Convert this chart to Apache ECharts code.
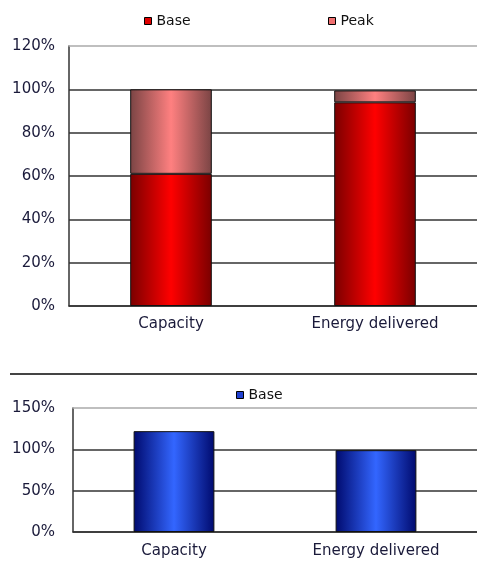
<!DOCTYPE html>
<html>
<head>
<meta charset="utf-8">
<script src="https://cdn.jsdelivr.net/npm/echarts@6/dist/echarts.min.js"></script>
<style>
  html, body { margin: 0; padding: 0; background: #fff; }
  #top { position: absolute; left: 0; top: 0; width: 477px; height: 370px; }
  #bottom { position: absolute; left: 0; top: 370px; width: 477px; height: 196px; }
</style>
</head>
<body>
<div id="top"></div>
<div id="bottom"></div>
<script>
const categories = ['Capacity', 'Energy delivered']
const topBase = [61, 94]
const topPeak = [39, 5.5]
const topTicks = [0, 20, 40, 60, 80, 100, 120]
const bottomBase = [122, 99]
const bottomTicks = [0, 50, 100, 150]

const font = 'DejaVu Sans'

const grad = (edge, mid) => new echarts.graphic.LinearGradient(0, 0, 1, 0, [
  { offset: 0, color: edge },
  { offset: 0.5, color: mid },
  { offset: 1, color: edge },
])

const RED = grad('#7a0000', '#ff0000')
const PINK = grad('#7a4444', '#ff8080')
const BLUE = grad('#000a6e', '#3366ff')

const yAxisCommon = (ticks, margin) => ({
  type: 'value',
  min: ticks[0],
  max: ticks[ticks.length - 1],
  interval: ticks[1] - ticks[0],
  axisLine: { show: true, lineStyle: { color: '#333', width: 1.5 } },
  axisTick: { show: false },
  axisLabel: {
    margin: margin,
    formatter: '{value}%',
    color: '#1a1a3a',
    fontFamily: font,
    fontSize: 15,
  },
  splitLine: {
    showMaxLine: false,
    lineStyle: { color: '#333', width: 1.5 },
  },
})

const xAxisCommon = (margin) => ([
  {
    type: 'category',
    data: categories,
    axisLine: { show: true, lineStyle: { color: '#333', width: 1.5 } },
    axisTick: { show: false },
    axisLabel: {
      margin: margin,
      color: '#1a1a3a',
      fontFamily: font,
      fontSize: 15,
    },
  },
  {
    // top frame line of the plot area
    type: 'category',
    position: 'top',
    data: categories,
    axisLine: { show: true, lineStyle: { color: '#aaa', width: 1.5 } },
    axisTick: { show: false },
    axisLabel: { show: false },
  },
])

const legendText = { color: '#111', fontFamily: font, fontSize: 14 }

const topChart = echarts.init(document.getElementById('top'))
topChart.setOption({
  animation: false,
  legend: [
    {
      data: [{ name: 'Base', itemStyle: { color: '#e00000', borderColor: '#000', borderWidth: 1 } }],
      left: 139, top: 9, itemWidth: 7, itemHeight: 7,
      icon: 'rect', textStyle: legendText,
    },
    {
      data: [{ name: 'Peak', itemStyle: { color: '#f07070', borderColor: '#000', borderWidth: 1 } }],
      left: 323, top: 9, itemWidth: 7, itemHeight: 7,
      icon: 'rect', textStyle: legendText,
    },
  ],
  grid: { left: 69, top: 46, width: 415, height: 260 },
  xAxis: xAxisCommon(11),
  yAxis: yAxisCommon(topTicks, 14),
  series: [
    {
      name: 'Base', type: 'bar', stack: 'a', barWidth: '40%',
      itemStyle: { color: RED, borderColor: '#111', borderWidth: 1 },
      data: topBase,
    },
    {
      name: 'Peak', type: 'bar', stack: 'a', barWidth: '40%',
      itemStyle: { color: PINK, borderColor: '#111', borderWidth: 1 },
      data: topPeak,
    },
  ],
})

const bottomChart = echarts.init(document.getElementById('bottom'))
bottomChart.setOption({
  animation: false,
  legend: {
    data: [{ name: 'Base', itemStyle: { color: '#2040d0', borderColor: '#000', borderWidth: 1 } }],
    left: 231, top: 13, itemWidth: 7, itemHeight: 7,
    icon: 'rect', textStyle: legendText,
  },
  grid: { left: 73, top: 38, width: 411, height: 124 },
  xAxis: xAxisCommon(12),
  yAxis: yAxisCommon(bottomTicks, 18),
  series: [
    {
      name: 'Base', type: 'bar', barWidth: '40%',
      itemStyle: { color: BLUE, borderColor: '#111', borderWidth: 1 },
      data: bottomBase,
    },
  ],
  graphic: [
    {
      type: 'line',
      shape: { x1: 10, y1: 4, x2: 477, y2: 4 },
      style: { stroke: '#444', lineWidth: 2 },
    },
  ],
})
</script>
</body>
</html>
